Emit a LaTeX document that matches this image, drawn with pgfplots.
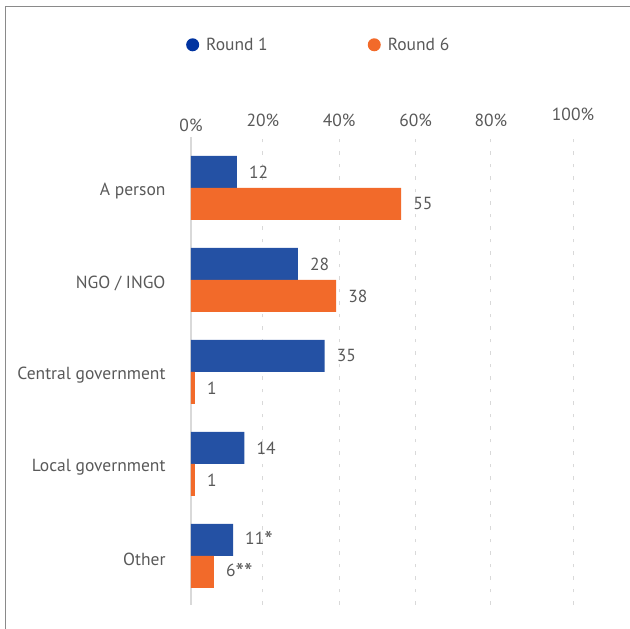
\documentclass[border=0pt]{standalone}
\usepackage{pgfplots}
\pgfplotsset{compat=1.18}
\usepackage{fontspec}
\setmainfont{PT Sans}

\definecolor{barblue}{HTML}{2451A4}
\definecolor{legblue}{HTML}{0033A0}
\definecolor{barorange}{HTML}{F26A2A}
\definecolor{txtgray}{HTML}{595959}
\definecolor{gridgray}{HTML}{D9D9D9}
\definecolor{framegray}{HTML}{8A8A8A}

\newcommand{\lbl}{\fontsize{17.5pt}{21pt}\selectfont}
\newcommand{\st}{\raisebox{-0.22em}{\fontsize{24pt}{24pt}\selectfont *}}

\begin{document}
\begin{tikzpicture}[x=1pt,y=1pt]
\path[use as bounding box] (0,0) rectangle (630,629);
\draw[framegray, line width=1pt] (5,0) -- (5,622) -- (630,622);
\begin{axis}[
  at={(191pt,24pt)}, anchor=south west,
  scale only axis, width=382pt, height=468pt,
  xmin=0, xmax=100, ymin=-0.533, ymax=4.554,
  axis x line*=top, axis y line*=left,
  x axis line style={draw=none},
  y axis line style={draw=gridgray, line width=1.3pt},
  major tick length=0pt,
  xtick={0,18.8,38.8,58.8,78.5,100},
  xticklabels={\raisebox{-5pt}{0\%},20\%,40\%,60\%,80\%,\raisebox{6pt}{100\%}},
  xticklabel style={anchor=base, yshift=10.5pt},
  xmajorgrids,
  grid style={gridgray, line width=0.9pt, dash pattern=on 3.5pt off 9pt},
  ytick={0,1,2,3,4},
  yticklabels={Other, Local government, Central government, NGO / INGO, A person},
  yticklabel style={xshift=-22pt, yshift=-3.5pt},
  tick label style={font=\lbl, text=txtgray},
  xbar, bar width=32pt,
  point meta=explicit symbolic,
  nodes near coords=\pgfplotspointmeta,
  every node near coord/.append style={font=\lbl, text=txtgray, anchor=west, inner sep=0pt, xshift=12pt},
  legend columns=2,
  legend cell align=left,
  legend style={draw=none, fill=none, at={(-0.021,1.197)}, anchor=west,
    font=\lbl, text=txtgray,
    /tikz/every odd column/.append style={column sep=5pt},
    /tikz/every even column/.append style={column sep=98pt}},
]
\addplot[fill=barblue, draw=none, bar shift=16pt,
  legend image code/.code={\fill[legblue] (0pt,0pt) circle (6.5pt);}]
  coordinates {(12,4) [12] (28,3) [28] (35,2) [35] (14,1) [14] (11,0) [11\st]};
\addlegendentry{Round 1}
\addplot[fill=barorange, draw=none, bar shift=-16pt,
  legend image code/.code={\fill[barorange] (0pt,0pt) circle (6.5pt);}]
  coordinates {(55,4) [55] (38,3) [38] (1,2) [1] (1,1) [1] (6,0) [6\st\st]};
\addlegendentry{Round 6}
\end{axis}
\end{tikzpicture}
\end{document}
